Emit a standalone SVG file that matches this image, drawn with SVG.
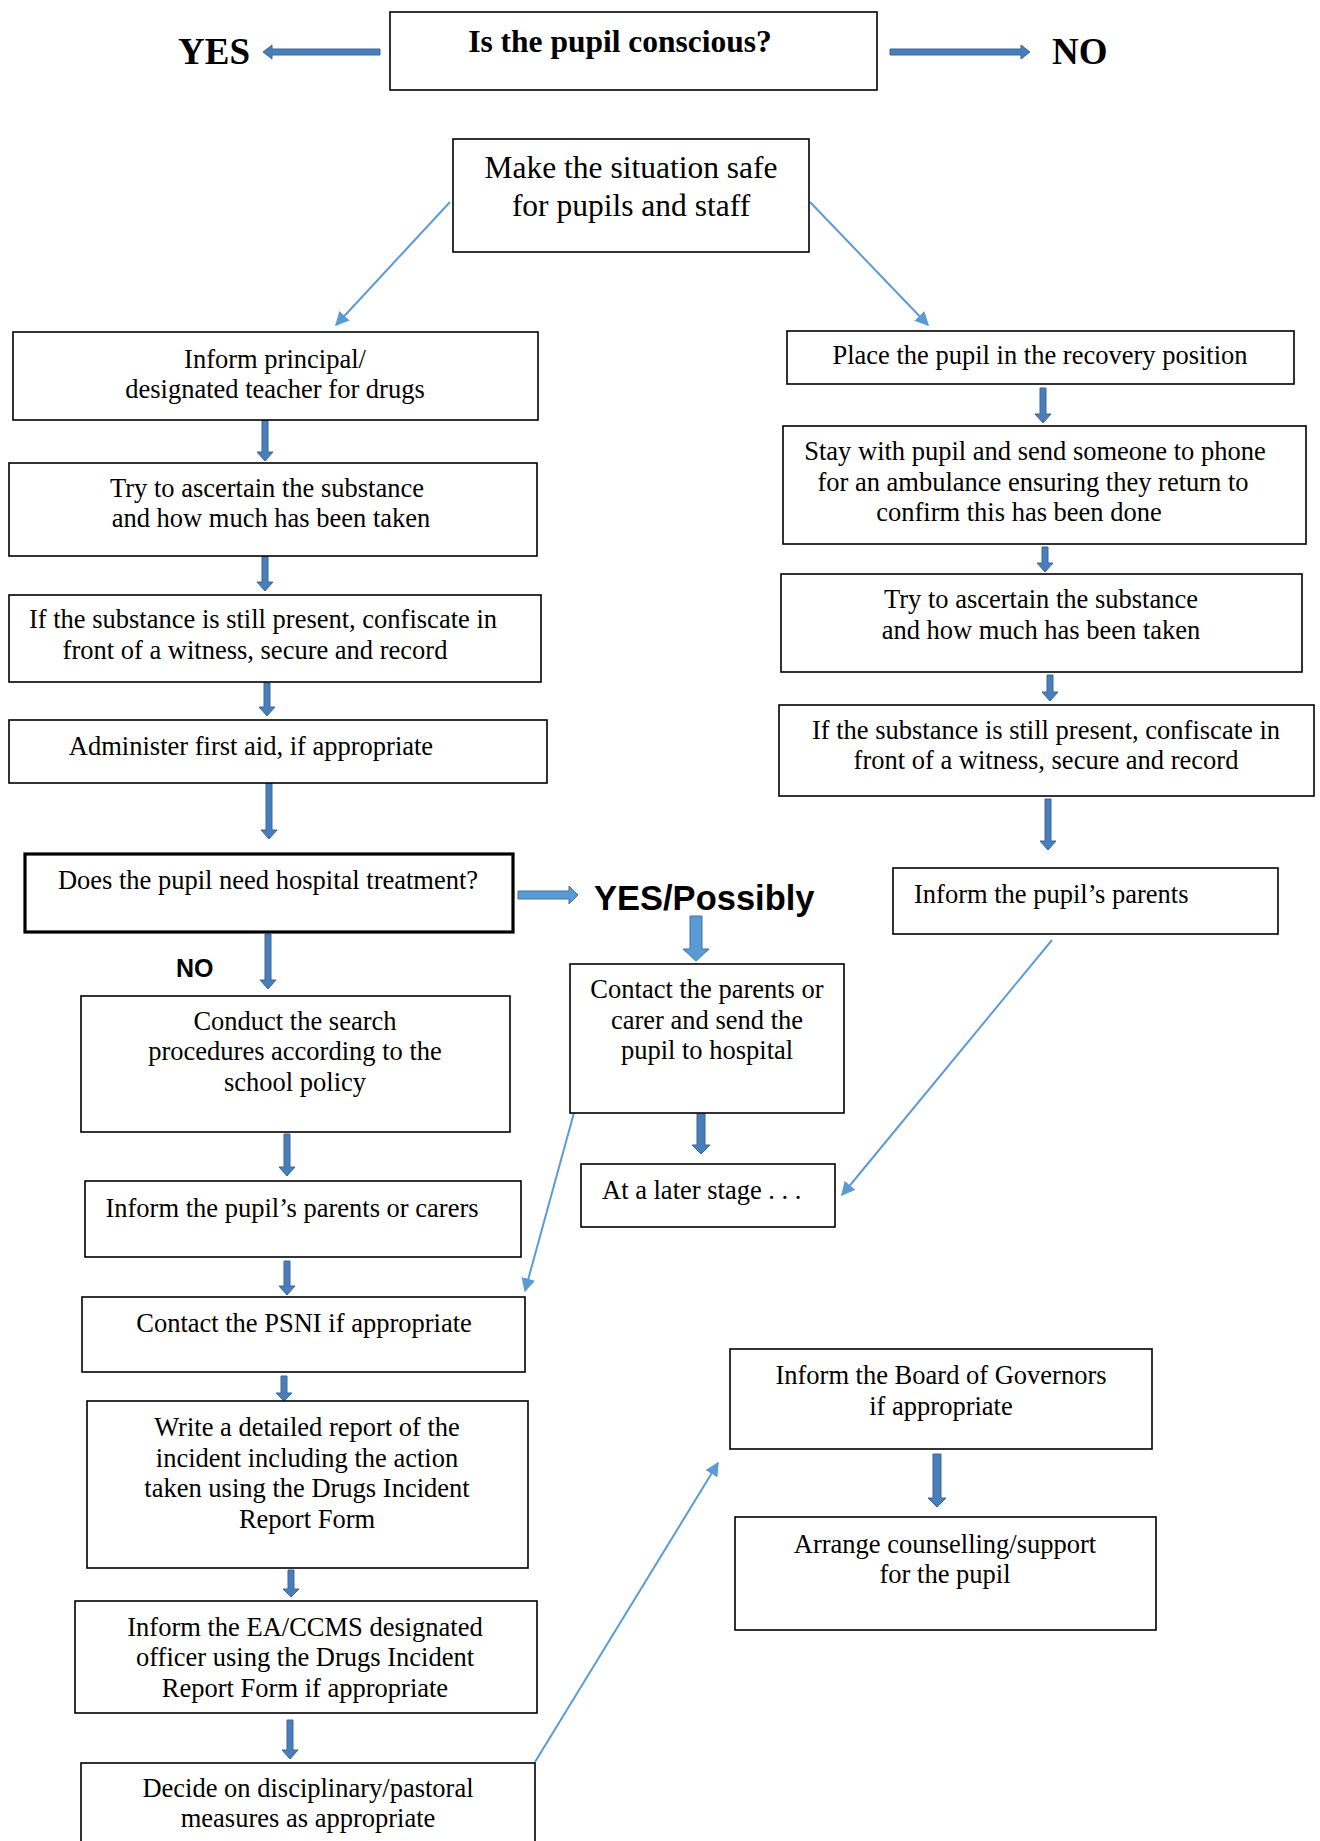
<svg xmlns="http://www.w3.org/2000/svg" width="1320" height="1841" viewBox="0 0 1320 1841">
<style>
.box{fill:#fff;stroke:#000;stroke-width:1.6}
.thick{fill:#fff;stroke:#000;stroke-width:3.2}
.t{font-family:"Liberation Serif","Times New Roman",serif;font-size:26.5px;fill:#000;text-anchor:middle}
.ts{font-family:"Liberation Serif","Times New Roman",serif;font-size:26.5px;fill:#000}
.big{font-family:"Liberation Serif","Times New Roman",serif;font-size:31.5px;fill:#000;text-anchor:middle}
.hb{font-family:"Liberation Serif","Times New Roman",serif;font-weight:bold;fill:#000}
.sb{font-family:"Liberation Sans",Arial,sans-serif;font-weight:bold;fill:#000}
.ba{fill:#4a7ebb;stroke:#3a6796;stroke-width:1}
.bl{fill:#5b9bd5;stroke:#41719c;stroke-width:1}
.ln{stroke:#5b9bd5;stroke-width:2;fill:none;marker-end:url(#ah)}
</style>
<defs>
<marker id="ah" viewBox="0 0 10 10" refX="9" refY="5" markerWidth="7" markerHeight="7" markerUnits="strokeWidth" orient="auto">
<path d="M0,0 L10,5 L0,10 Z" fill="#5b9bd5"/>
</marker>
</defs>
<rect width="1320" height="1841" fill="#fff"/>

<g id="connectors">
<path class="ba" d="M380,49 L272,49 L272,45 L263,52 L272,59 L272,55 L380,55 Z"/>
<path class="ba" d="M890,49 L1021,49 L1021,45 L1030,52 L1021,59 L1021,55 L890,55 Z"/>
<line class="ln" x1="450" y1="202" x2="336" y2="325"/>
<line class="ln" x1="810" y1="202" x2="928" y2="325"/>
<path class="ba" d="M262,418 L268,418 L268,452 L273,452 L265,461 L257,452 L262,452 Z"/>
<path class="ba" d="M262,552 L268,552 L268,582 L273,582 L265,591 L257,582 L262,582 Z"/>
<path class="ba" d="M264,683 L270,683 L270,707 L275,707 L267,716 L259,707 L264,707 Z"/>
<path class="ba" d="M266,783 L272,783 L272,830 L277,830 L269,839 L261,830 L266,830 Z"/>
<path class="ba" d="M1040,388 L1046,388 L1046,414 L1051,414 L1043,423 L1035,414 L1040,414 Z"/>
<path class="ba" d="M1042,547 L1048,547 L1048,563 L1053,563 L1045,572 L1037,563 L1042,563 Z"/>
<path class="ba" d="M1047,675 L1053,675 L1053,692 L1058,692 L1050,701 L1042,692 L1047,692 Z"/>
<path class="ba" d="M1045,799 L1051,799 L1051,841 L1056,841 L1048,850 L1040,841 L1045,841 Z"/>
<path class="bl" d="M518,891 L569,891 L569,886 L578,895 L569,904 L569,899 L518,899 Z"/>
<path class="bl" d="M690,916 L702,916 L702,949 L709,949 L696,961 L683,949 L690,949 Z"/>
<path class="ba" d="M265,934 L271,934 L271,980 L276,980 L268,989 L260,980 L265,980 Z"/>
<path class="ba" d="M284,1134 L290,1134 L290,1167 L295,1167 L287,1176 L279,1167 L284,1167 Z"/>
<path class="ba" d="M284,1261 L290,1261 L290,1286 L295,1286 L287,1295 L279,1286 L284,1286 Z"/>
<path class="ba" d="M281,1376 L287,1376 L287,1393 L292,1393 L284,1401 L276,1393 L281,1393 Z"/>
<path class="ba" d="M288,1570 L294,1570 L294,1589 L299,1589 L291,1597 L283,1589 L288,1589 Z"/>
<path class="ba" d="M287,1720 L293,1720 L293,1750 L298,1750 L290,1759 L282,1750 L287,1750 Z"/>
<path class="ba" d="M697,1114 L705,1114 L705,1145 L710,1145 L701,1154 L692,1145 L697,1145 Z"/>
<path class="ba" d="M933,1454 L941,1454 L941,1498 L946,1498 L937,1507 L928,1498 L933,1498 Z"/>
<line class="ln" x1="1052" y1="940" x2="842" y2="1195"/>
<line class="ln" x1="575" y1="1109" x2="525" y2="1291"/>
<line class="ln" x1="535" y1="1762" x2="718" y2="1463"/>
</g>

<g id="n-conscious">
<rect class="box" x="390" y="12" width="487" height="78"/>
<text class="hb" x="620" y="52" font-size="31.5" text-anchor="middle">Is the pupil conscious?</text>
</g>
<g id="l-yes"><text class="hb" x="178" y="64" font-size="37">YES</text></g>
<g id="l-no"><text class="hb" x="1052" y="64" font-size="37">NO</text></g>

<g id="n-safe">
<rect class="box" x="453" y="139" width="356" height="113"/>
<text class="big" x="631" y="178">Make the situation safe</text>
<text class="big" x="631" y="216">for pupils and staff</text>
</g>

<g id="n-inform-principal">
<rect class="box" x="13" y="332" width="525" height="88"/>
<text class="t" x="275" y="368">Inform principal/</text>
<text class="t" x="275" y="398">designated teacher for drugs</text>
</g>
<g id="n-ascertain-l">
<rect class="box" x="9" y="463" width="528" height="93"/>
<text class="t" x="267" y="497">Try to ascertain the substance</text>
<text class="t" x="271" y="527">and how much has been taken</text>
</g>
<g id="n-confiscate-l">
<rect class="box" x="9" y="595" width="532" height="87"/>
<text class="t" x="263" y="628">If the substance is still present, confiscate in</text>
<text class="t" x="255" y="659">front of a witness, secure and record</text>
</g>
<g id="n-firstaid">
<rect class="box" x="9" y="720" width="538" height="63"/>
<text class="t" x="251" y="755">Administer first aid, if appropriate</text>
</g>
<g id="n-hospital">
<rect class="thick" x="25" y="854" width="488" height="78"/>
<text class="t" x="268" y="889">Does the pupil need hospital treatment?</text>
</g>
<g id="l-yespossibly"><text class="sb" x="594" y="910" font-size="34.5">YES/Possibly</text></g>
<g id="l-no2"><text class="sb" x="176" y="977" font-size="25">NO</text></g>

<g id="n-search">
<rect class="box" x="81" y="996" width="429" height="136"/>
<text class="t" x="295" y="1030">Conduct the search</text>
<text class="t" x="295" y="1060">procedures according to the</text>
<text class="t" x="295" y="1091">school policy</text>
</g>
<g id="n-inform-carers">
<rect class="box" x="85" y="1181" width="436" height="76"/>
<text class="t" x="292" y="1217">Inform the pupil’s parents or carers</text>
</g>
<g id="n-psni">
<rect class="box" x="82" y="1297" width="443" height="75"/>
<text class="t" x="304" y="1332">Contact the PSNI if appropriate</text>
</g>
<g id="n-report">
<rect class="box" x="87" y="1401" width="441" height="167"/>
<text class="t" x="307" y="1436">Write a detailed report of the</text>
<text class="t" x="307" y="1467">incident including the action</text>
<text class="t" x="307" y="1497">taken using the Drugs Incident</text>
<text class="t" x="307" y="1528">Report Form</text>
</g>
<g id="n-eaccms">
<rect class="box" x="75" y="1601" width="462" height="112"/>
<text class="t" x="305" y="1636">Inform the EA/CCMS designated</text>
<text class="t" x="305" y="1666">officer using the Drugs Incident</text>
<text class="t" x="305" y="1697">Report Form if appropriate</text>
</g>
<g id="n-disciplinary">
<rect class="box" x="81" y="1763" width="454" height="90"/>
<text class="t" x="308" y="1797">Decide on disciplinary/pastoral</text>
<text class="t" x="308" y="1827">measures as appropriate</text>
</g>

<g id="n-recovery">
<rect class="box" x="787" y="331" width="507" height="53"/>
<text class="t" x="1040" y="364">Place the pupil in the recovery position</text>
</g>
<g id="n-ambulance">
<rect class="box" x="783" y="426" width="523" height="118"/>
<text class="t" x="1035" y="460">Stay with pupil and send someone to phone</text>
<text class="t" x="1033" y="491">for an ambulance ensuring they return to</text>
<text class="t" x="1019" y="521">confirm this has been done</text>
</g>
<g id="n-ascertain-r">
<rect class="box" x="781" y="574" width="521" height="98"/>
<text class="t" x="1041" y="608">Try to ascertain the substance</text>
<text class="t" x="1041" y="639">and how much has been taken</text>
</g>
<g id="n-confiscate-r">
<rect class="box" x="779" y="705" width="535" height="91"/>
<text class="t" x="1046" y="739">If the substance is still present, confiscate in</text>
<text class="t" x="1046" y="769">front of a witness, secure and record</text>
</g>
<g id="n-inform-parents">
<rect class="box" x="893" y="868" width="385" height="66"/>
<text class="ts" x="914" y="903">Inform the pupil’s parents</text>
</g>
<g id="n-contact-hospital">
<rect class="box" x="570" y="964" width="274" height="149"/>
<text class="t" x="707" y="998">Contact the parents or</text>
<text class="t" x="707" y="1029">carer and send the</text>
<text class="t" x="707" y="1059">pupil to hospital</text>
</g>
<g id="n-later">
<rect class="box" x="581" y="1164" width="254" height="63"/>
<text class="ts" x="602" y="1199">At a later stage . . .</text>
</g>
<g id="n-governors">
<rect class="box" x="730" y="1349" width="422" height="100"/>
<text class="t" x="941" y="1384">Inform the Board of Governors</text>
<text class="t" x="941" y="1415">if appropriate</text>
</g>
<g id="n-counselling">
<rect class="box" x="735" y="1517" width="421" height="113"/>
<text class="t" x="945" y="1553">Arrange counselling/support</text>
<text class="t" x="945" y="1583">for the pupil</text>
</g>
</svg>
